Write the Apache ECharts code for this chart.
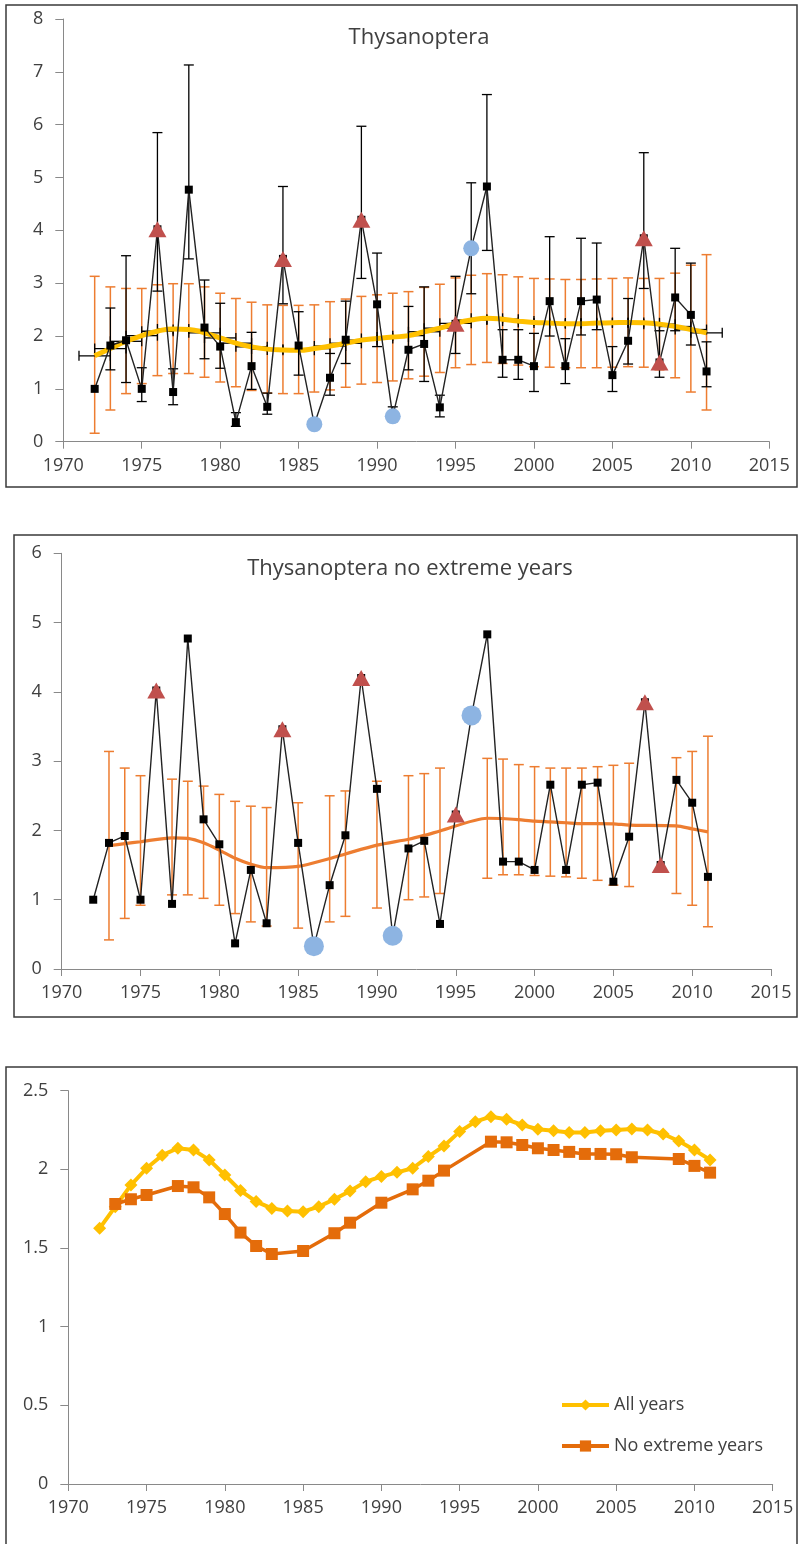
<!DOCTYPE html>
<html>
<head>
<meta charset="utf-8">
<script src="https://cdn.jsdelivr.net/npm/echarts@6/dist/echarts.min.js"></script>
<style>
  html, body { margin: 0; padding: 0; background: #fff; }
  #chart { width: 800px; height: 1544px; }
</style>
</head>
<body>
<div id="chart"></div>
<script>
// Yearly Thysanoptera abundance, 1972-2011
const years = [1972, 1973, 1974, 1975, 1976, 1977, 1978, 1979, 1980, 1981,
               1982, 1983, 1984, 1985, 1986, 1987, 1988, 1989, 1990, 1991,
               1992, 1993, 1994, 1995, 1996, 1997, 1998, 1999, 2000, 2001,
               2002, 2003, 2004, 2005, 2006, 2007, 2008, 2009, 2010, 2011];
const abundance = [1.00, 1.82, 1.92, 1.00, 4.02, 0.94, 4.77, 2.16, 1.80, 0.37,
                   1.43, 0.66, 3.46, 1.82, 0.33, 1.21, 1.93, 4.20, 2.60, 0.48,
                   1.74, 1.85, 0.65, 2.23, 3.66, 4.83, 1.55, 1.55, 1.43, 2.66,
                   1.43, 2.66, 2.69, 1.26, 1.91, 3.85, 1.50, 2.73, 2.40, 1.33];
// confidence limits of each yearly value
const abundanceLow  = [null, 1.36, 1.12, 0.76, 2.85, 0.70, 3.46, 1.57, 1.39, 0.29,
                       0.99, 0.52, 2.61, 1.26, null, 0.88, 1.48, 3.09, 1.80, 0.38,
                       1.36, 1.14, 0.47, 1.67, 2.80, 3.62, 1.22, 1.18, 0.95, 2.00,
                       1.10, 2.02, 2.12, 0.95, 1.47, 2.90, 1.22, 2.10, 1.83, 1.04];
const abundanceHigh = [null, 2.53, 3.52, 1.40, 5.85, 1.38, 7.13, 3.06, 2.62, 0.55,
                       2.07, 0.92, 4.83, 2.46, null, 1.67, 2.66, 5.97, 3.57, 0.66,
                       2.56, 2.93, 0.88, 3.13, 4.90, 6.57, 2.12, 2.12, 2.05, 3.88,
                       1.95, 3.85, 3.76, 1.80, 2.71, 5.47, 2.10, 3.66, 3.38, 1.89];

// extreme years
const highYears = [1976, 1984, 1989, 1995, 2007, 2008];
const lowYears = [1986, 1991, 1996];

// moving average, all years
const maAll = [1.625, 1.763, 1.900, 2.007, 2.090, 2.134, 2.123, 2.060, 1.964, 1.865,
               1.795, 1.752, 1.736, 1.731, 1.763, 1.810, 1.863, 1.922, 1.954, 1.981,
               2.007, 2.081, 2.149, 2.240, 2.303, 2.335, 2.318, 2.282, 2.255, 2.246,
               2.234, 2.234, 2.246, 2.250, 2.257, 2.250, 2.225, 2.180, 2.123, 2.060];
const maAllLow  = [0.16, 0.60, 0.91, 1.10, 1.25, 1.29, 1.29, 1.22, 1.13, 1.04,
                   0.97, 0.92, 0.91, 0.91, 0.94, 0.98, 1.03, 1.09, 1.12, 1.15,
                   1.19, 1.24, 1.31, 1.40, 1.46, 1.50, 1.48, 1.45, 1.42, 1.41,
                   1.40, 1.40, 1.40, 1.41, 1.42, 1.41, 1.36, 1.21, 0.94, 0.60];
const maAllHigh = [3.13, 2.93, 2.90, 2.90, 2.97, 2.99, 2.99, 2.93, 2.81, 2.71,
                   2.64, 2.59, 2.58, 2.58, 2.59, 2.65, 2.70, 2.75, 2.78, 2.81,
                   2.84, 2.92, 2.98, 3.10, 3.15, 3.18, 3.16, 3.12, 3.09, 3.08,
                   3.07, 3.07, 3.08, 3.09, 3.10, 3.09, 3.09, 3.19, 3.34, 3.54];
const maAllYearSpan = 1; // horizontal error bar half-width, years

// moving average without extreme years
const maNoExtYears = [1973, 1974, 1975, 1977, 1978, 1979, 1980, 1981, 1982, 1983,
                      1985, 1987, 1988, 1990, 1992, 1993, 1994, 1997, 1998, 1999,
                      2000, 2001, 2002, 2003, 2004, 2005, 2006, 2009, 2010, 2011];
const maNoExt = [1.780, 1.810, 1.837, 1.894, 1.886, 1.822, 1.716, 1.598, 1.513, 1.462,
                 1.481, 1.594, 1.661, 1.788, 1.873, 1.928, 1.992, 2.176, 2.172, 2.155,
                 2.134, 2.123, 2.111, 2.098, 2.098, 2.096, 2.077, 2.066, 2.022, 1.979];
const maNoExtLow  = [0.42, 0.73, 0.92, 1.07, 1.07, 1.02, 0.92, 0.80, 0.68, 0.62,
                     0.59, 0.68, 0.76, 0.88, 1.00, 1.04, 1.09, 1.31, 1.36, 1.36,
                     1.35, 1.34, 1.33, 1.31, 1.28, 1.21, 1.19, 1.09, 0.92, 0.61];
const maNoExtHigh = [3.14, 2.90, 2.79, 2.74, 2.71, 2.64, 2.52, 2.42, 2.35, 2.33,
                     2.40, 2.50, 2.57, 2.71, 2.79, 2.82, 2.90, 3.04, 3.03, 2.95,
                     2.92, 2.90, 2.90, 2.90, 2.92, 2.94, 2.97, 3.05, 3.14, 3.36];

const titles = ['Thysanoptera', 'Thysanoptera no extreme years'];
const legendNames = ['All years', 'No extreme years'];

const FONT = '"Open Sans", "Noto Sans", sans-serif';
const TEXT = '#404040';
const AXIS = '#898989';
const ORANGE = '#ED7D31';
const DARK_ORANGE = '#E46C0A';
const YELLOW = '#FFC000';
const RED = '#C0504D';
const BLUE = '#8DB4E2';

const pairs = (xs, ys) => xs.map((x, i) => [x, ys[i]]);
const valueOf = y => abundance[years.indexOf(y)];

function verticalBars(color, lw, cap) {
  return function (params, api) {
    const x = api.value(0);
    const a = api.coord([x, api.value(1)]);
    const b = api.coord([x, api.value(2)]);
    const st = { stroke: color, lineWidth: lw };
    return { type: 'group', children: [
      { type: 'line', shape: { x1: a[0], y1: a[1], x2: b[0], y2: b[1] }, style: st },
      { type: 'line', shape: { x1: a[0] - cap, y1: a[1], x2: a[0] + cap, y2: a[1] }, style: st },
      { type: 'line', shape: { x1: b[0] - cap, y1: b[1], x2: b[0] + cap, y2: b[1] }, style: st }
    ] };
  };
}
function horizontalBars(color, lw, cap) {
  return function (params, api) {
    const y = api.value(1);
    const a = api.coord([api.value(2), y]);
    const b = api.coord([api.value(3), y]);
    const st = { stroke: color, lineWidth: lw };
    return { type: 'group', children: [
      { type: 'line', shape: { x1: a[0], y1: a[1], x2: b[0], y2: b[1] }, style: st },
      { type: 'line', shape: { x1: a[0], y1: a[1] - cap, x2: a[0], y2: a[1] + cap }, style: st },
      { type: 'line', shape: { x1: b[0], y1: b[1] - cap, x2: b[0], y2: b[1] + cap }, style: st }
    ] };
  };
}

function xAxis(gi) {
  return {
    type: 'value', gridIndex: gi, min: 1970, max: 2015, interval: 5,
    axisLine: { show: true, onZero: false, lineStyle: { color: AXIS, width: 1 } },
    axisTick: { show: true, length: 7, lineStyle: { color: AXIS } },
    splitLine: { show: false },
    axisLabel: { fontSize: 18, fontFamily: FONT, color: TEXT, margin: 15,
                 formatter: v => String(v) }
  };
}
function yAxis(gi, max, interval, fmt) {
  return {
    type: 'value', gridIndex: gi, min: 0, max: max, interval: interval,
    axisLine: { show: true, lineStyle: { color: AXIS, width: 1 } },
    axisTick: { show: true, length: 8, lineStyle: { color: AXIS } },
    splitLine: { show: false },
    axisLabel: { fontSize: 18, fontFamily: FONT, color: TEXT, margin: 20, formatter: fmt }
  };
}

const yearBars = years.map((y, i) => [y, abundanceLow[i], abundanceHigh[i]])
                      .filter(d => d[1] !== null);
const maAllBars = years.map((y, i) => [y, maAllLow[i], maAllHigh[i]]);
const maAllSpan = years.map((y, i) => [y, maAll[i], y - maAllYearSpan, y + maAllYearSpan]);
const maNoExtBars = maNoExtYears.map((y, i) => [y, maNoExtLow[i], maNoExtHigh[i]]);
const highPts = highYears.map(y => [y, valueOf(y)]);
const lowPts = lowYears.map(y => [y, valueOf(y)]);

const option = {
  animation: false,
  backgroundColor: '#fff',
  grid: [
    { left: 63.3, top: 19, width: 706, height: 422.7, outerBoundsMode: 'none' },
    { left: 61.7, top: 553.3, width: 709.3, height: 415.7, outerBoundsMode: 'none' },
    { left: 68.3, top: 1090.7, width: 704.4, height: 393.3, outerBoundsMode: 'none' }
  ],
  xAxis: [xAxis(0), xAxis(1), xAxis(2)],
  yAxis: [
    yAxis(0, 8, 1, v => String(v)),
    yAxis(1, 6, 1, v => String(v)),
    yAxis(2, 2.5, 0.5, v => String(v))
  ],
  legend: {
    data: legendNames, orient: 'vertical', left: 560, top: 1396, padding: 0,
    itemWidth: 47, itemHeight: 14, itemGap: 23,
    lineStyle: { width: 4 },
    textStyle: { fontSize: 18, fontFamily: FONT, color: TEXT }
  },
  graphic: [
    { type: 'rect', shape: { x: 6, y: 5, width: 791, height: 482 },
      style: { fill: 'none', stroke: '#3a3a3a', lineWidth: 1.5 }, z: 100 },
    { type: 'rect', shape: { x: 14, y: 535, width: 783, height: 482 },
      style: { fill: 'none', stroke: '#3a3a3a', lineWidth: 1.5 }, z: 100 },
    { type: 'rect', shape: { x: 6, y: 1067, width: 791, height: 490 },
      style: { fill: 'none', stroke: '#3a3a3a', lineWidth: 1.5 }, z: 100 },
    { type: 'text', x: 419, y: 38, z: 100,
      style: { text: titles[0], fontSize: 22, fontFamily: FONT, fill: TEXT,
               align: 'center', verticalAlign: 'middle' } },
    { type: 'text', x: 410, y: 569, z: 100,
      style: { text: titles[1], fontSize: 22, fontFamily: FONT, fill: TEXT,
               align: 'center', verticalAlign: 'middle' } }
  ],
  series: [
    // ---- top panel: all years ----
    { type: 'custom', xAxisIndex: 0, yAxisIndex: 0, z: 2,
      renderItem: verticalBars(ORANGE, 1.5, 5), data: maAllBars },
    { type: 'custom', xAxisIndex: 0, yAxisIndex: 0, z: 3,
      renderItem: horizontalBars('#000', 1.3, 5), data: maAllSpan },
    { type: 'line', xAxisIndex: 0, yAxisIndex: 0, z: 4, smooth: 0.5,
      showSymbol: false, data: pairs(years, maAll),
      lineStyle: { color: YELLOW, width: 5 } },
    { type: 'custom', xAxisIndex: 0, yAxisIndex: 0, z: 5,
      renderItem: verticalBars('#000', 1.3, 5), data: yearBars },
    { type: 'line', xAxisIndex: 0, yAxisIndex: 0, z: 6,
      symbol: 'rect', symbolSize: 8, data: pairs(years, abundance),
      itemStyle: { color: '#000' }, lineStyle: { color: '#222', width: 1.4 } },
    { type: 'scatter', xAxisIndex: 0, yAxisIndex: 0, z: 7,
      symbol: 'triangle', symbolSize: [18, 16], data: highPts,
      itemStyle: { color: RED, opacity: 1 } },
    { type: 'scatter', xAxisIndex: 0, yAxisIndex: 0, z: 7,
      symbol: 'circle', symbolSize: 16, data: lowPts,
      itemStyle: { color: BLUE, opacity: 1 } },

    // ---- middle panel: no extreme years ----
    { type: 'custom', xAxisIndex: 1, yAxisIndex: 1, z: 2,
      renderItem: verticalBars(ORANGE, 1.5, 5), data: maNoExtBars },
    { type: 'line', xAxisIndex: 1, yAxisIndex: 1, z: 3, smooth: 0.25,
      showSymbol: false, data: pairs(maNoExtYears, maNoExt),
      lineStyle: { color: ORANGE, width: 3.2 } },
    { type: 'line', xAxisIndex: 1, yAxisIndex: 1, z: 4,
      symbol: 'rect', symbolSize: 8, data: pairs(years, abundance),
      itemStyle: { color: '#000' }, lineStyle: { color: '#222', width: 1.4 } },
    { type: 'scatter', xAxisIndex: 1, yAxisIndex: 1, z: 5,
      symbol: 'triangle', symbolSize: [18, 16], data: highPts,
      itemStyle: { color: RED, opacity: 1 } },
    { type: 'scatter', xAxisIndex: 1, yAxisIndex: 1, z: 5,
      symbol: 'circle', symbolSize: 20, data: lowPts,
      itemStyle: { color: BLUE, opacity: 1 } },

    // ---- bottom panel: the two moving averages ----
    { name: legendNames[0], type: 'line', xAxisIndex: 2, yAxisIndex: 2, z: 3,
      symbol: 'diamond', symbolSize: 13, data: pairs(years, maAll),
      itemStyle: { color: YELLOW }, lineStyle: { color: YELLOW, width: 4 } },
    { name: legendNames[1], type: 'line', xAxisIndex: 2, yAxisIndex: 2, z: 4,
      symbol: 'rect', symbolSize: 12, data: pairs(maNoExtYears, maNoExt),
      itemStyle: { color: DARK_ORANGE }, lineStyle: { color: DARK_ORANGE, width: 3.5 } }
  ]
};

const chart = echarts.init(document.getElementById('chart'), null, { renderer: 'canvas' });
chart.setOption(option);
</script>
</body>
</html>
